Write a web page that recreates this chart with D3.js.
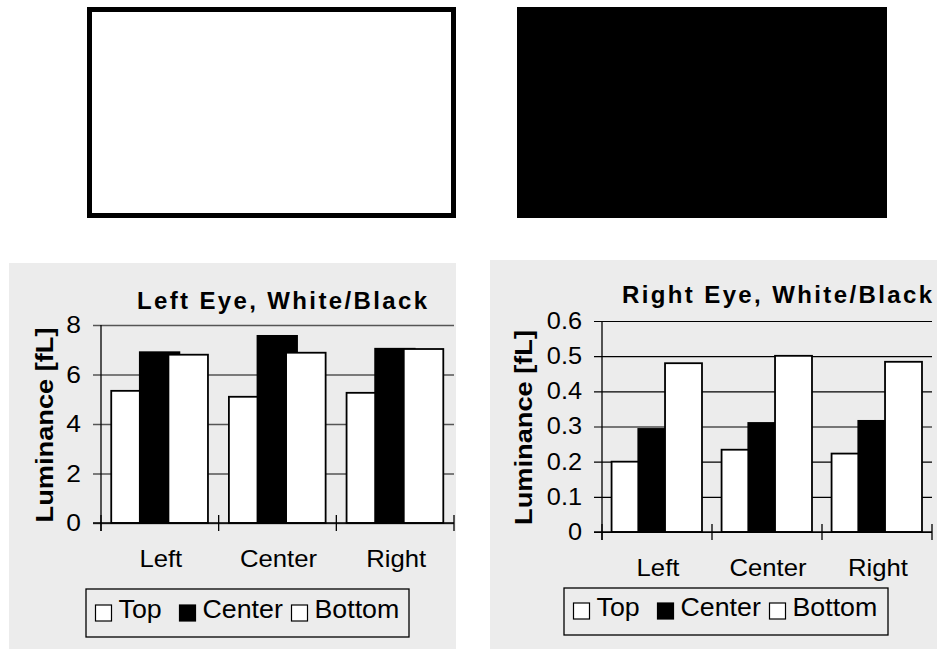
<!DOCTYPE html>
<html>
<head>
<meta charset="utf-8">
<script src="https://cdn.jsdelivr.net/npm/d3@7"></script>
<style>
  html, body { margin: 0; padding: 0; background: #fff; }
  svg { display: block; font-family: "Liberation Sans", Arial, sans-serif; }
</style>
</head>
<body>
<svg width="937" height="649"></svg>
<script>
// categories and series
var categories = ["Left", "Center", "Right"];
var seriesNames = ["Top", "Center", "Bottom"];
var seriesFill = ["#fff", "#000", "#fff"];

// left eye luminance [fL]
var leftTop = [5.34, 5.10, 5.26];
var leftCenter = [6.90, 7.56, 7.04];
var leftBottom = [6.80, 6.88, 7.03];
var leftTicks = [0, 2, 4, 6, 8];

// right eye luminance [fL]
var rightTop = [0.200, 0.234, 0.223];
var rightCenter = [0.293, 0.310, 0.316];
var rightBottom = [0.480, 0.501, 0.484];
var rightTicks = [0, 0.1, 0.2, 0.3, 0.4, 0.5, 0.6];

var svg = d3.select("svg");

// stretch text horizontally a bit, the original glyphs are wider than Arial
function stretch(sel, k) {
	sel.each(function() {
		var w = this.getComputedTextLength();
		d3.select(this).attr("textLength", w * k).attr("lengthAdjust", "spacingAndGlyphs");
	});
}

// the two test patterns on top
svg.append("rect")
	.attr("x", 89.5).attr("y", 9.5).attr("width", 364).attr("height", 206)
	.attr("fill", "#fff").attr("stroke", "#000").attr("stroke-width", 5);
svg.append("rect")
	.attr("x", 517).attr("y", 7).attr("width", 370).attr("height", 211)
	.attr("fill", "#000");

function drawChart(o) {
	var g = svg.append("g");

	g.append("rect")
		.attr("x", o.panel[0]).attr("y", o.panel[1])
		.attr("width", o.panel[2]).attr("height", o.panel[3])
		.attr("fill", "#ececec");

	var x = d3.scaleBand().domain(categories).range([o.x0, o.x1]);
	var y = d3.scaleLinear().domain([0, o.yMax]).range([o.y1, o.y0]);

	// gridlines + ticks
	var yAxis = d3.axisLeft(y)
		.tickValues(o.ticks)
		.tickSize(-(o.x1 - o.x0 + 8))
		.tickPadding(12)
		.tickFormat(function(d) { return d3.format(o.fmt)(d); });
	var ag = g.append("g")
		.attr("transform", "translate(" + (o.x0 - 8) + ",0)")
		.call(yAxis);
	ag.select(".domain").remove();
	ag.selectAll("line").attr("stroke", o.gridColor).attr("stroke-width", o.gridWidth);
	ag.selectAll("text")
		.attr("font-family", "Liberation Sans, Arial, sans-serif")
		.attr("font-size", o.tickFont)
		.attr("fill", "#000")
		.call(stretch, 1.1);

	// bars, drawn in series order so later ones overlap earlier ones
	var bw = x.bandwidth(),
		barW = bw * 0.336,
		step = bw * 0.243,
		pad = bw * 0.087;

	o.data.forEach(function(vals, i) {
		g.append("g").selectAll("rect")
			.data(vals)
			.enter().append("rect")
			.attr("x", function(d, j) { return x(categories[j]) + pad + i * step; })
			.attr("y", function(d) { return y(d); })
			.attr("width", barW)
			.attr("height", function(d) { return y(0) - y(d); })
			.attr("fill", seriesFill[i])
			.attr("stroke", "#000")
			.attr("stroke-width", 1.8);
	});

	// axes
	g.append("line")
		.attr("x1", o.x0).attr("x2", o.x0)
		.attr("y1", o.y0).attr("y2", o.y1 + 8)
		.attr("stroke", "#000").attr("stroke-width", 1.3);
	g.append("line")
		.attr("x1", o.x0 - 8).attr("x2", o.x1)
		.attr("y1", y(0)).attr("y2", y(0))
		.attr("stroke", "#000").attr("stroke-width", 1.5);
	var edges = categories.map(function(c) { return x(c); }).concat([o.x1]);
	g.selectAll(".xtick")
		.data(edges)
		.enter().append("line")
		.attr("x1", function(d) { return d; }).attr("x2", function(d) { return d; })
		.attr("y1", y(0) - 8).attr("y2", y(0) + 8)
		.attr("stroke", "#000").attr("stroke-width", 1.3);

	// category labels
	g.selectAll(".cat")
		.data(categories)
		.enter().append("text")
		.attr("x", function(d) { return x(d) + bw / 2 + 1; })
		.attr("y", o.y1 + 44)
		.attr("text-anchor", "middle")
		.attr("font-size", 24)
		.text(function(d) { return d; })
		.call(stretch, 1.07);

	// title
	g.append("text")
		.attr("x", o.titleX).attr("y", o.titleY)
		.attr("font-size", 24).attr("font-weight", "bold")
		.attr("textLength", o.titleLen).attr("lengthAdjust", "spacing")
		.text(o.title);

	// y label
	g.append("text")
		.attr("transform", "translate(" + o.ylabX + "," + ((o.y0 + o.y1) / 2 + 1) + ") rotate(-90)")
		.attr("text-anchor", "middle")
		.attr("font-size", 24).attr("font-weight", "bold")
		.attr("textLength", 195).attr("lengthAdjust", "spacingAndGlyphs")
		.text("Luminance [fL]");

	// legend
	var lg = g.append("g").attr("transform", "translate(" + o.legend[0] + "," + o.legend[1] + ")");
	lg.append("rect")
		.attr("width", o.legend[2]).attr("height", o.legend[3])
		.attr("fill", "#ececec").attr("stroke", "#000").attr("stroke-width", 1.3);
	var offs = [9.5, 93.5, 205.5];
	var item = lg.selectAll(".item")
		.data(seriesNames)
		.enter().append("g")
		.attr("transform", function(d, i) { return "translate(" + offs[i] + ",0)"; });
	item.append("rect")
		.attr("y", o.legSqY).attr("width", 16).attr("height", 16)
		.attr("fill", function(d, i) { return seriesFill[i]; })
		.attr("stroke", "#000").attr("stroke-width", 1.2);
	item.append("text")
		.attr("x", 23).attr("y", o.legSqY + 13)
		.attr("font-size", 25)
		.text(function(d) { return d; })
		.call(stretch, 1.07);
}

drawChart({
	panel: [9, 263, 447, 386],
	x0: 101, x1: 454, y0: 325, y1: 523,
	yMax: 8, ticks: leftTicks, fmt: "d", tickFont: 24,
	gridColor: "#555", gridWidth: 1.4,
	data: [leftTop, leftCenter, leftBottom],
	title: "Left Eye, White/Black", titleX: 137, titleY: 309, titleLen: 290,
	ylabX: 53,
	legend: [86, 589, 323, 48], legSqY: 16
});

drawChart({
	panel: [490, 260, 447, 389],
	x0: 602, x1: 932, y0: 321, y1: 532,
	yMax: 0.6, ticks: rightTicks, fmt: "~g", tickFont: 23,
	gridColor: "#000", gridWidth: 1.1,
	data: [rightTop, rightCenter, rightBottom],
	title: "Right Eye, White/Black", titleX: 622, titleY: 303, titleLen: 310,
	ylabX: 532,
	legend: [564, 588, 324, 47], legSqY: 15
});
</script>
</body>
</html>
